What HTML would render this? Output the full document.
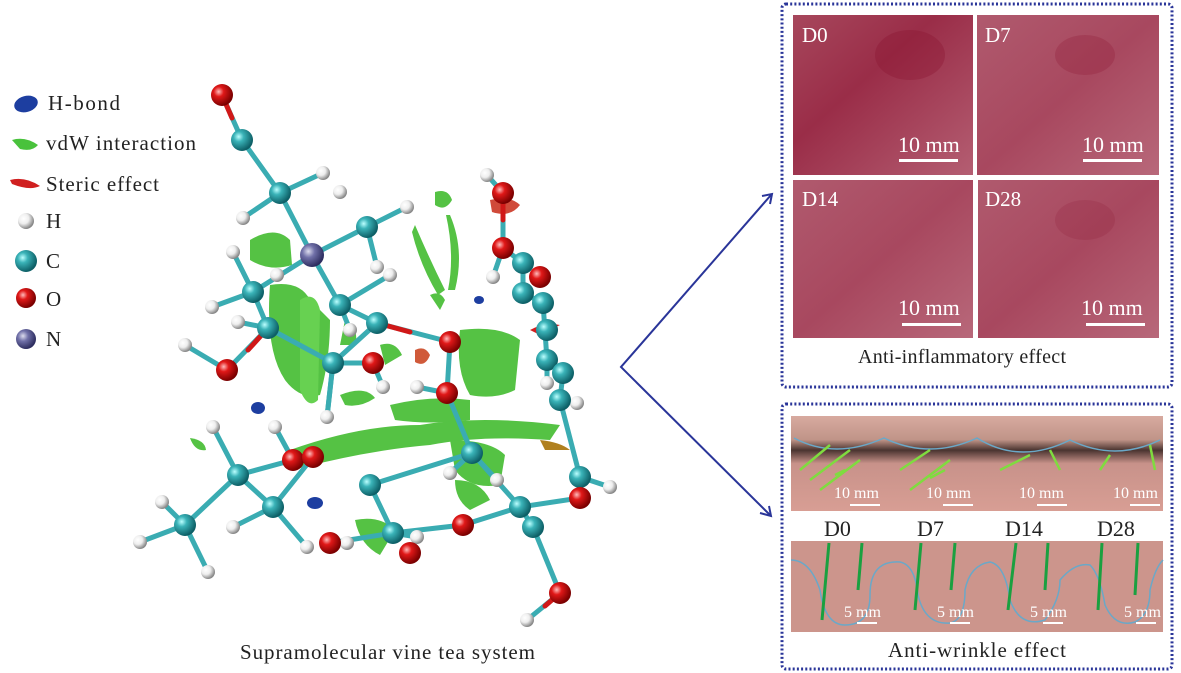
<!DOCTYPE html>
<html><head><meta charset="utf-8"><style>
html,body{margin:0;padding:0;background:#fff;}
svg{display:block;}
text{font-family:"Liberation Serif",serif;}
</style></head><body>
<svg width="1181" height="673" viewBox="0 0 1181 673" xmlns="http://www.w3.org/2000/svg">
<defs>
<radialGradient id="gC" cx="35%" cy="35%" r="65%"><stop offset="0" stop-color="#bff"/><stop offset="0.35" stop-color="#3ab3b8"/><stop offset="1" stop-color="#0d5f66"/></radialGradient>
<radialGradient id="gO" cx="35%" cy="35%" r="65%"><stop offset="0" stop-color="#fbb"/><stop offset="0.35" stop-color="#e01818"/><stop offset="1" stop-color="#7a0000"/></radialGradient>
<radialGradient id="gH" cx="35%" cy="35%" r="65%"><stop offset="0" stop-color="#fff"/><stop offset="0.5" stop-color="#eee"/><stop offset="1" stop-color="#888"/></radialGradient>
<radialGradient id="gN" cx="35%" cy="35%" r="65%"><stop offset="0" stop-color="#dde"/><stop offset="0.4" stop-color="#7070a8"/><stop offset="1" stop-color="#2e2e60"/></radialGradient>
<linearGradient id="skinA" x1="0" y1="0" x2="1" y2="1"><stop offset="0" stop-color="#a7475c"/><stop offset="0.4" stop-color="#9a2d48"/><stop offset="1" stop-color="#b45e72"/></linearGradient>
<linearGradient id="skinB" x1="0" y1="0" x2="1" y2="1"><stop offset="0" stop-color="#b05a6e"/><stop offset="0.5" stop-color="#a8485f"/><stop offset="1" stop-color="#b8687a"/></linearGradient>
<linearGradient id="eye" x1="0" y1="0" x2="0" y2="1"><stop offset="0" stop-color="#d8aaa0"/><stop offset="0.25" stop-color="#c09488"/><stop offset="0.36" stop-color="#4a3430"/><stop offset="0.5" stop-color="#c8928a"/><stop offset="1" stop-color="#d89e94"/></linearGradient>
</defs>

<!-- Legend -->
<g font-size="21" fill="#222">
<ellipse cx="26" cy="104" rx="12" ry="8" fill="#1d3ea0" transform="rotate(-15 26 104)"/>
<text x="48" y="110" textLength="72">H-bond</text>
<path d="M12 140 Q25 136 38 145 Q32 152 20 149 Z" fill="#49c23c"/>
<text x="46" y="150" textLength="150">vdW interaction</text>
<path d="M10 180 Q25 176 40 186 Q30 191 12 184 Z" fill="#d02020"/>
<text x="46" y="191" textLength="113">Steric effect</text>
<circle cx="26" cy="221" r="8" fill="url(#gH)"/>
<text x="46" y="228">H</text>
<circle cx="26" cy="261" r="11" fill="url(#gC)"/>
<text x="46" y="268">C</text>
<circle cx="26" cy="298" r="10" fill="url(#gO)"/>
<text x="46" y="306">O</text>
<circle cx="26" cy="339" r="10" fill="url(#gN)"/>
<text x="46" y="346">N</text>
</g>

<!-- Molecule: green vdW surfaces -->
<g fill="#4cbf3a" opacity="0.95">
<path d="M250 240 Q275 225 290 240 L292 265 Q270 272 250 260 Z"/>
<path d="M270 285 Q300 280 310 300 L330 320 Q330 360 320 395 Q300 400 285 380 Q265 350 270 285 Z"/>
<path d="M300 300 Q315 290 320 310 L318 400 Q308 410 300 390 Z" fill="#5fcf48"/>
<path d="M415 225 Q430 260 445 290 L438 295 Q420 265 412 232 Z"/>
<path d="M450 215 Q465 250 455 290 L448 290 Q455 255 446 215 Z"/>
<path d="M460 330 Q500 325 520 340 L515 390 Q495 400 470 395 Q455 370 460 330 Z"/>
<path d="M290 450 Q360 425 420 425 Q480 415 560 425 L550 440 Q480 435 430 445 Q370 450 300 468 Z"/>
<path d="M390 405 Q430 395 470 400 L470 420 Q430 425 395 420 Z"/>
<path d="M450 440 Q490 440 505 455 L500 485 Q470 490 455 470 Z"/>
<path d="M455 480 Q480 480 490 500 L470 510 Q455 500 455 480 Z"/>
<path d="M435 192 Q448 188 452 200 Q445 212 435 205 Z"/>
<path d="M345 320 Q360 330 355 345 L340 345 Z"/>
<path d="M380 345 Q395 340 402 355 L385 365 Z"/>
<path d="M340 395 Q365 385 375 398 Q360 408 345 405 Z"/>
<path d="M355 520 Q380 515 395 530 L380 555 Q360 545 355 520 Z"/>
<path d="M190 438 Q205 440 206 450 Q195 452 190 438 Z"/>
<path d="M430 295 Q440 290 445 300 L440 310 Z"/>
</g>
<path d="M415 350 Q425 345 430 355 Q425 368 415 362 Z" fill="#d05a3a"/>
<path d="M490 200 Q510 195 520 205 Q510 218 492 212 Z" fill="#d04a3a"/>
<path d="M530 330 Q545 322 560 325 L540 335 Z" fill="#d02020"/>
<path d="M540 440 Q560 442 570 450 L545 450 Z" fill="#b08020"/>
<ellipse cx="258" cy="408" rx="7" ry="6" fill="#1d3ea0"/>
<ellipse cx="315" cy="503" rx="8" ry="6" fill="#1d3ea0"/>
<ellipse cx="479" cy="300" rx="5" ry="4" fill="#1d3ea0"/>

<!-- bonds -->
<g stroke="#3aacb2" stroke-width="5" stroke-linecap="round" fill="none">
<path d="M222 95 L242 140 L280 193 L312 255 L367 227"/>
<path d="M312 255 L253 292 M312 255 L340 305 M253 292 L268 328 L227 370 M268 328 L333 363 M340 305 L377 323 L333 363 M377 323 L450 342 L447 393 M333 363 L373 363 M333 363 L327 417"/>
<path d="M503 193 L503 248 L523 263 L523 293 L543 303 L547 360 L563 373 L560 400 L580 477 L580 498 L520 507 L533 527 L560 593 L527 620"/>
<path d="M520 507 L463 525 L393 533 L330 543 M370 485 L472 453 L520 507 M370 485 L393 533 M447 393 L472 453"/>
<path d="M238 475 L293 460 M238 475 L185 525 M238 475 L273 507 L313 457 M185 525 L162 502 M185 525 L208 572 M185 525 L140 542 M273 507 L233 527 M273 507 L307 547"/>
<path d="M367 227 L407 207 M367 227 L377 267 M280 193 L243 218 M280 193 L323 173 M253 292 L233 252 M253 292 L212 307 M268 328 L238 322 M227 370 L185 345 M340 305 L350 330 M340 305 L390 275 M238 475 L213 427 M293 460 L275 427 M580 477 L610 487 M503 193 L487 175 M503 248 L493 277 M547 360 L547 383 M560 400 L577 403 M472 453 L450 473 M472 453 L497 480 M393 533 L417 537 M330 543 L347 543 M447 393 L417 387 M373 363 L383 387 M333 363 L327 417"/>
</g>
<g stroke="#d01818" stroke-width="5" stroke-linecap="round">
<path d="M222 95 L232 118 M268 328 L248 350 M377 323 L410 332 M503 193 L503 220 M580 477 L580 490 M560 593 L545 606"/>
</g>

<!-- atoms -->
<g fill="url(#gH)">
<circle cx="323" cy="173" r="7"/><circle cx="243" cy="218" r="7"/><circle cx="340" cy="192" r="7"/><circle cx="407" cy="207" r="7"/>
<circle cx="233" cy="252" r="7"/><circle cx="277" cy="275" r="7"/><circle cx="377" cy="267" r="7"/><circle cx="390" cy="275" r="7"/>
<circle cx="212" cy="307" r="7"/><circle cx="238" cy="322" r="7"/><circle cx="350" cy="330" r="7"/><circle cx="185" cy="345" r="7"/>
<circle cx="417" cy="387" r="7"/><circle cx="383" cy="387" r="7"/><circle cx="327" cy="417" r="7"/><circle cx="213" cy="427" r="7"/>
<circle cx="275" cy="427" r="7"/><circle cx="162" cy="502" r="7"/><circle cx="233" cy="527" r="7"/><circle cx="307" cy="547" r="7"/>
<circle cx="208" cy="572" r="7"/><circle cx="140" cy="542" r="7"/><circle cx="487" cy="175" r="7"/><circle cx="493" cy="277" r="7"/>
<circle cx="547" cy="383" r="7"/><circle cx="577" cy="403" r="7"/><circle cx="610" cy="487" r="7"/><circle cx="527" cy="620" r="7"/>
<circle cx="417" cy="537" r="7"/><circle cx="347" cy="543" r="7"/><circle cx="497" cy="480" r="7"/><circle cx="450" cy="473" r="7"/>
</g>
<g fill="url(#gC)">
<circle cx="242" cy="140" r="11"/><circle cx="280" cy="193" r="11"/><circle cx="367" cy="227" r="11"/><circle cx="253" cy="292" r="11"/>
<circle cx="268" cy="328" r="11"/><circle cx="340" cy="305" r="11"/><circle cx="377" cy="323" r="11"/><circle cx="333" cy="363" r="11"/>
<circle cx="523" cy="263" r="11"/><circle cx="523" cy="293" r="11"/><circle cx="543" cy="303" r="11"/><circle cx="547" cy="330" r="11"/>
<circle cx="547" cy="360" r="11"/><circle cx="563" cy="373" r="11"/><circle cx="560" cy="400" r="11"/><circle cx="580" cy="477" r="11"/>
<circle cx="520" cy="507" r="11"/><circle cx="533" cy="527" r="11"/><circle cx="472" cy="453" r="11"/><circle cx="370" cy="485" r="11"/>
<circle cx="393" cy="533" r="11"/><circle cx="238" cy="475" r="11"/><circle cx="273" cy="507" r="11"/><circle cx="185" cy="525" r="11"/>
</g>
<circle cx="312" cy="255" r="12" fill="url(#gN)"/>
<g fill="url(#gO)">
<circle cx="222" cy="95" r="11"/><circle cx="227" cy="370" r="11"/><circle cx="373" cy="363" r="11"/><circle cx="450" cy="342" r="11"/>
<circle cx="447" cy="393" r="11"/><circle cx="503" cy="193" r="11"/><circle cx="503" cy="248" r="11"/><circle cx="540" cy="277" r="11"/>
<circle cx="580" cy="498" r="11"/><circle cx="463" cy="525" r="11"/><circle cx="410" cy="553" r="11"/><circle cx="330" cy="543" r="11"/>
<circle cx="293" cy="460" r="11"/><circle cx="313" cy="457" r="11"/><circle cx="560" cy="593" r="11"/>
</g>

<text x="240" y="659" font-size="21" fill="#222" textLength="295">Supramolecular vine tea system</text>

<!-- arrows -->
<g stroke="#2a3599" stroke-width="2" fill="none">
<path d="M771 195 L621 367 L770 515"/>
<path d="M762 196 L772 194 L770 204"/>
<path d="M760 513 L771 516 L769 506"/>
</g>

<!-- boxes -->
<g stroke="#2a3599" stroke-width="3" stroke-dasharray="2 2.2" fill="none">
<rect x="782" y="4" width="390" height="383" rx="4"/>
<rect x="782" y="404" width="390" height="265" rx="4"/>
</g>

<!-- Anti-inflammatory panels -->
<rect x="793" y="15" width="180" height="160" fill="url(#skinA)"/>
<rect x="977" y="15" width="182" height="160" fill="url(#skinB)"/>
<rect x="793" y="180" width="180" height="158" fill="url(#skinB)"/>
<rect x="978" y="180" width="181" height="158" fill="url(#skinB)"/>
<ellipse cx="910" cy="55" rx="35" ry="25" fill="#8a1530" opacity="0.35"/>
<ellipse cx="1085" cy="55" rx="30" ry="20" fill="#8a1530" opacity="0.25"/>
<ellipse cx="1085" cy="220" rx="30" ry="20" fill="#8a1530" opacity="0.18"/>
<g fill="#fff" font-size="21">
<text x="802" y="42">D0</text><text x="985" y="42">D7</text>
<text x="802" y="206">D14</text><text x="985" y="206">D28</text>
<text x="898" y="152" font-size="22">10 mm</text><text x="1082" y="152" font-size="22">10 mm</text>
<text x="898" y="315" font-size="22">10 mm</text><text x="1081" y="315" font-size="22">10 mm</text>
</g>
<g fill="#fff">
<rect x="899" y="159" width="59" height="3"/><rect x="1083" y="159" width="59" height="3"/>
<rect x="902" y="323" width="59" height="3"/><rect x="1086" y="323" width="59" height="3"/>
</g>
<text x="858" y="363" font-size="20" fill="#222" textLength="208">Anti-inflammatory effect</text>

<!-- Anti-wrinkle panels -->
<g>
<rect x="791" y="416" width="93" height="95" fill="url(#eye)"/>
<rect x="884" y="416" width="93" height="95" fill="url(#eye)"/>
<rect x="977" y="416" width="93" height="95" fill="url(#eye)"/>
<rect x="1070" y="416" width="93" height="95" fill="url(#eye)"/>
<rect x="791" y="541" width="372" height="91" fill="#cc958c"/>
</g>
<g stroke="#6aa8c8" stroke-width="1.5" fill="none">
<path d="M794 438 Q835 460 884 438 Q930 460 977 438 Q1020 465 1070 440 Q1115 462 1160 440"/>
<path d="M791 560 Q810 560 820 590 Q825 625 845 625 Q870 625 870 595 Q870 560 900 562 Q915 565 918 595 Q925 625 950 623 Q965 620 965 590 Q970 565 990 562 Q1005 565 1010 600 Q1020 628 1045 620 Q1060 600 1060 580 Q1075 562 1090 565 Q1100 575 1105 605 Q1115 628 1135 622 Q1150 615 1150 590 Q1155 568 1163 560"/>
</g>
<g stroke="#7fdc3f" stroke-width="2.5" fill="none">
<path d="M800 470 L830 445 M810 480 L850 450 M820 490 L860 460 M900 470 L930 450 M910 490 L950 460 M1000 470 L1030 455 M1050 450 L1060 470 M1100 470 L1110 455 M1150 445 L1155 470 M835 475 L845 470 M930 478 L945 470"/>
</g>
<g stroke="#1aa040" stroke-width="3" fill="none">
<path d="M829 543 L822 620 M862 543 L858 590 M921 543 L915 610 M955 543 L951 590 M1016 543 L1008 610 M1048 543 L1045 590 M1102 543 L1098 610 M1138 543 L1135 595"/>
</g>
<g fill="#fff" font-size="16">
<text x="834" y="498">10 mm</text><text x="926" y="498">10 mm</text><text x="1019" y="498">10 mm</text><text x="1113" y="498">10 mm</text>
<text x="844" y="617">5 mm</text><text x="937" y="617">5 mm</text><text x="1030" y="617">5 mm</text><text x="1124" y="617">5 mm</text>
</g>
<g fill="#fff">
<rect x="850" y="504" width="30" height="2"/><rect x="943" y="504" width="30" height="2"/><rect x="1037" y="504" width="30" height="2"/><rect x="1130" y="504" width="30" height="2"/>
<rect x="857" y="622" width="20" height="2"/><rect x="950" y="622" width="20" height="2"/><rect x="1043" y="622" width="20" height="2"/><rect x="1136" y="622" width="20" height="2"/>
</g>
<g font-size="22" fill="#222">
<text x="824" y="536">D0</text><text x="917" y="536">D7</text><text x="1005" y="536">D14</text><text x="1097" y="536">D28</text>
</g>
<text x="888" y="657" font-size="21" fill="#222" textLength="178">Anti-wrinkle effect</text>
</svg>
</body></html>
